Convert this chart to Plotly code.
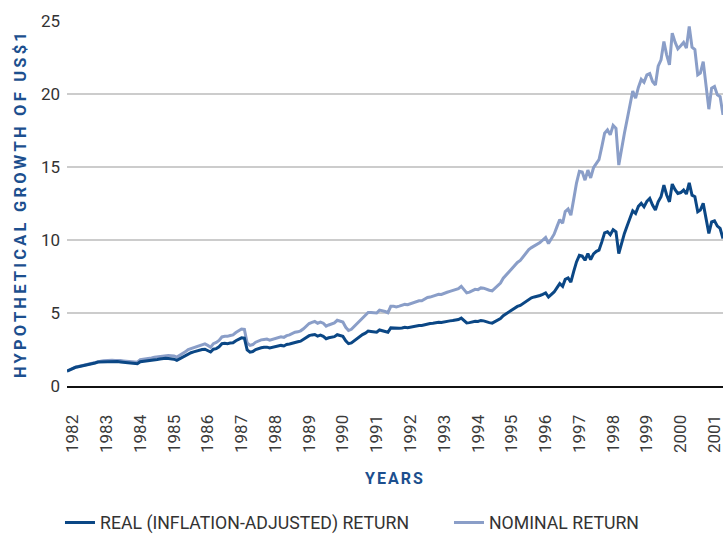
import pandas as pd
import plotly.graph_objects as go

# Monthly observations (June 1982 .. Nov 2001), growth of US$1
months = pd.date_range("1982-06-01", periods=234, freq="MS")

real_return = [
    1.02, 1.12, 1.22, 1.28, 1.32, 1.36, 1.40, 1.43, 1.48, 1.52, 1.58, 1.64,
    1.65, 1.67, 1.68, 1.66, 1.68, 1.66, 1.67, 1.65, 1.63, 1.60, 1.62, 1.58,
    1.54, 1.52, 1.66, 1.68, 1.70, 1.74, 1.76, 1.80, 1.82, 1.85, 1.88, 1.90,
    1.88, 1.87, 1.84, 1.76, 1.86, 1.96, 2.08, 2.22, 2.28, 2.34, 2.40, 2.44,
    2.50, 2.52, 2.42, 2.33, 2.52, 2.56, 2.68, 2.90, 2.92, 2.90, 2.94, 2.96,
    3.10, 3.20, 3.30, 3.28, 2.48, 2.32, 2.36, 2.50, 2.58, 2.62, 2.65, 2.66,
    2.60, 2.64, 2.70, 2.76, 2.78, 2.74, 2.84, 2.88, 2.95, 3.01, 3.03, 3.07,
    3.18, 3.33, 3.45, 3.50, 3.53, 3.42, 3.48, 3.40, 3.24, 3.30, 3.33, 3.38,
    3.51, 3.46, 3.40, 3.10, 2.90, 2.95, 3.10, 3.22, 3.35, 3.52, 3.62, 3.76,
    3.74, 3.72, 3.69, 3.84, 3.80, 3.74, 3.68, 3.98, 3.96, 3.92, 3.95, 3.97,
    4.02, 3.99, 4.04, 4.06, 4.12, 4.15, 4.14, 4.20, 4.27, 4.28, 4.30, 4.34,
    4.37, 4.35, 4.40, 4.43, 4.46, 4.48, 4.50, 4.55, 4.65, 4.50, 4.32, 4.34,
    4.40, 4.44, 4.42, 4.49, 4.46, 4.38, 4.34, 4.31, 4.40, 4.49, 4.62, 4.82,
    4.95, 5.10, 5.22, 5.32, 5.45, 5.52, 5.66, 5.82, 5.96, 6.04, 6.10, 6.14,
    6.20, 6.28, 6.37, 6.09, 6.25, 6.44, 6.72, 7.01, 6.83, 7.30, 7.40, 7.12,
    7.85, 8.50, 8.95, 8.90, 8.61, 9.07, 8.66, 9.05, 9.22, 9.30, 9.87, 10.49,
    10.56, 10.36, 10.70, 10.56, 9.07, 9.80, 10.45, 11.00, 11.55, 12.00, 11.82, 12.30,
    12.51, 12.27, 12.65, 12.85, 12.39, 12.05, 12.62, 12.96, 13.76, 13.10, 12.61, 13.83,
    13.45, 13.19, 13.25, 13.42, 13.15, 13.92, 13.07, 12.96, 11.93, 12.05, 12.51, 11.41,
    10.45, 11.24, 11.31, 10.95, 10.79, 10.10,
]

nominal_return = [
    1.02, 1.12, 1.23, 1.29, 1.33, 1.38, 1.42, 1.46, 1.51, 1.55, 1.62, 1.69,
    1.70, 1.73, 1.75, 1.73, 1.76, 1.74, 1.76, 1.74, 1.72, 1.70, 1.72, 1.68,
    1.65, 1.63, 1.80, 1.82, 1.85, 1.90, 1.92, 1.97, 2.00, 2.03, 2.07, 2.10,
    2.09, 2.08, 2.06, 1.98, 2.09, 2.20, 2.34, 2.50, 2.57, 2.64, 2.71, 2.76,
    2.84, 2.88, 2.78, 2.66, 2.90, 2.98, 3.12, 3.36, 3.40, 3.40, 3.46, 3.50,
    3.66, 3.78, 3.90, 3.88, 2.95, 2.78, 2.84, 3.00, 3.10, 3.16, 3.19, 3.21,
    3.14, 3.19, 3.26, 3.34, 3.37, 3.33, 3.45, 3.50, 3.60, 3.68, 3.71, 3.78,
    3.92, 4.12, 4.28, 4.36, 4.42, 4.30, 4.38, 4.30, 4.10, 4.18, 4.24, 4.32,
    4.50, 4.45, 4.38, 4.02, 3.80, 3.88, 4.08, 4.24, 4.44, 4.68, 4.84, 5.04,
    5.03, 5.02, 5.00, 5.20, 5.16, 5.10, 5.02, 5.46, 5.46, 5.42, 5.47, 5.52,
    5.59, 5.57, 5.65, 5.69, 5.78, 5.84, 5.84, 5.94, 6.06, 6.09, 6.14, 6.22,
    6.28, 6.27, 6.36, 6.42, 6.48, 6.53, 6.58, 6.67, 6.83, 6.63, 6.38, 6.43,
    6.54, 6.62, 6.60, 6.72, 6.70, 6.60, 6.56, 6.52, 6.68, 6.84, 7.05, 7.38,
    7.60, 7.85, 8.06, 8.24, 8.46, 8.60, 8.84, 9.10, 9.34, 9.48, 9.60, 9.70,
    9.82, 10.00, 10.17, 9.76, 10.05, 10.40, 10.90, 11.40, 11.15, 11.95, 12.12, 11.70,
    12.80, 13.90, 14.70, 14.65, 14.10, 14.79, 14.25, 14.95, 15.25, 15.50, 16.40, 17.31,
    17.54, 17.20, 17.85, 17.65, 15.13, 16.40, 17.31, 18.30, 19.25, 20.20, 19.71, 20.45,
    21.00, 20.80, 21.31, 21.40, 20.85, 20.62, 21.90, 22.34, 23.60, 22.70, 22.00, 24.17,
    23.55, 23.10, 23.30, 23.53, 23.14, 24.63, 23.20, 23.05, 21.31, 21.43, 22.22, 20.74,
    18.96, 20.40, 20.51, 19.94, 19.82, 18.57,
]

series_names = ["REAL (INFLATION-ADJUSTED) RETURN", "NOMINAL RETURN"]
y_title = "HYPOTHETICAL GROWTH OF US$1"
x_title = "YEARS"

REAL_COLOR = "#0b4785"
NOMINAL_COLOR = "#8a9ec8"
TITLE_COLOR = "#1c4f8e"

fig = go.Figure()
fig.add_trace(go.Scatter(
    x=months, y=nominal_return, mode="lines", name=series_names[1],
    line=dict(color=NOMINAL_COLOR, width=3), legend="legend2",
))
fig.add_trace(go.Scatter(
    x=months, y=real_return, mode="lines", name=series_names[0],
    line=dict(color=REAL_COLOR, width=3), legend="legend",
))

legend_font = dict(size=17.7, color="#333333")
fig.update_layout(
    width=723, height=534,
    margin=dict(l=67, r=0, t=21, b=148, autoexpand=False),
    paper_bgcolor="white", plot_bgcolor="white",
    font=dict(family="Roboto, Arial, sans-serif", color="#333333"),
    showlegend=True,
    legend=dict(
        orientation="h", x=-0.0107, xanchor="left", y=-0.375, yanchor="middle",
        font=legend_font, bgcolor="rgba(0,0,0,0)",
    ),
    legend2=dict(
        orientation="h", x=0.5823, xanchor="left", y=-0.375, yanchor="middle",
        font=legend_font, bgcolor="rgba(0,0,0,0)",
    ),
)

fig.update_xaxes(
    type="date",
    range=["1982-06-01", "2001-11-01"],
    tick0="1982-08-01", dtick="M12", tickformat="%Y",
    tickangle=-90,
    tickfont=dict(size=17, color="#3a3a3a"),
    ticks="", ticklabelstandoff=20, ticklabeloverflow="allow",
    showgrid=False, zeroline=False, automargin=False,
    showline=True, linecolor="#111111", linewidth=2,
    title=dict(
        text='<span style="letter-spacing:2px">' + x_title + '</span>',
        font=dict(size=16, color=TITLE_COLOR, weight="bold"),
        standoff=21,
    ),
)

fig.update_yaxes(
    range=[0, 25], dtick=5, tick0=0,
    tickfont=dict(size=17, color="#333333"),
    ticklabelstandoff=6, automargin=False,
    showgrid=True, gridcolor="#cccccc", gridwidth=1.5,
    zeroline=False, showline=False,
    title=dict(
        text='<span style="letter-spacing:3.2px">' + y_title + '</span>',
        font=dict(size=16.5, color=TITLE_COLOR, weight="bold"),
        standoff=10,
    ),
)

fig.write_html(
    "out.html",
    config={"displayModeBar": False},
    post_script="document.body.style.margin='0';document.body.style.overflow='hidden';",
)
